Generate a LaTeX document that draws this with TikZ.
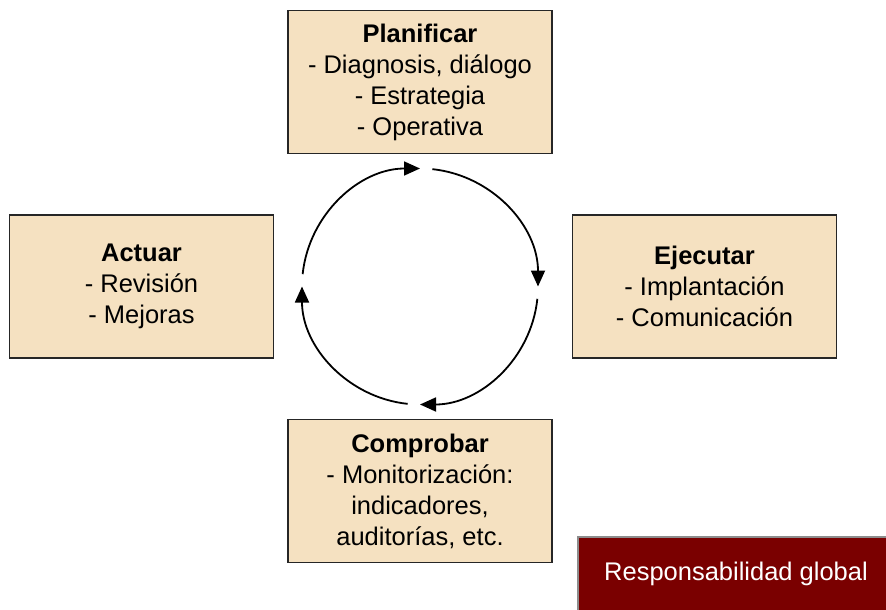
\documentclass[tikz,border=0pt]{standalone}
\usepackage{fontspec}
\setmainfont{Liberation Sans}
\usepackage{xcolor}
\usepackage{tikz}
\usetikzlibrary{arrows.meta}

\definecolor{phasefill}{HTML}{F5E1C1}
\definecolor{globalred}{HTML}{7A0000}

\begin{document}
\begin{tikzpicture}[x=1pt, y=-1pt,
    phase/.style={draw=black!85, line width=1.3pt, fill=phasefill, rectangle,
                  minimum width=264pt, minimum height=143pt, inner sep=0pt,
                  align=center, font=\fontsize{25.5}{31}\selectfont},
    turn/.style={line width=1.8pt, -{Triangle[length=16pt, width=14pt]}}
]
\useasboundingbox (0,0) rectangle (886,610);

\node[phase] (plan) at (420,82) {
    \textbf{Planificar}\\
    - Diagnosis, diálogo\\
    - Estrategia\\
    - Operativa
};
\node[phase] (eje) at (704.5,286.5) {
    \textbf{Ejecutar}\\
    - Implantación\\
    - Comunicación
};
\node[phase] (comp) at (420,491) {
    \textbf{Comprobar}\\
    - Monitorización:\\
    indicadores,\\
    auditorías, etc.
};
\node[phase] (act) at (141.5,286.5) {
    \textbf{Actuar}\\
    - Revisión\\
    - Mejoras
};

\node[draw=black!45, line width=1.3pt, fill=globalred, text=white,
      minimum width=316pt, minimum height=74pt,
      font=\fontsize{25.5}{31}\selectfont] (resp) at (736,574) {Responsabilidad global};

% cycle arrows
\coordinate (c) at (420,286.5);
\foreach \a in {90,0,-90,-180}
    \draw[turn] ([shift={(\a-6:118pt)}]c) arc[start angle=\a-6, end angle=\a-90, radius=118pt];
\end{tikzpicture}
\end{document}
